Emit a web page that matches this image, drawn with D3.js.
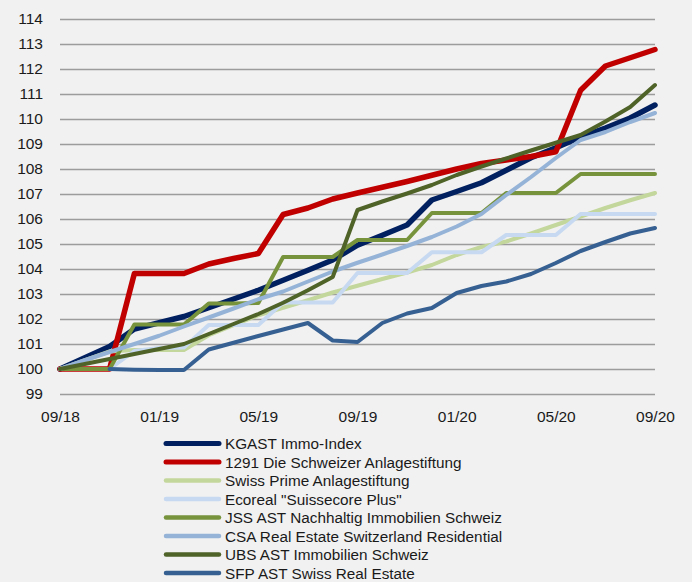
<!DOCTYPE html>
<html>
<head>
<meta charset="utf-8">
<script src="https://cdn.jsdelivr.net/npm/d3@7"></script>
<style>
  html, body { margin: 0; padding: 0; background: #f1f1f1; }
  svg { display: block; font-family: "Liberation Sans", Arial, sans-serif; }
</style>
</head>
<body>
<svg id="chart" width="692" height="582"></svg>
<script>
// ---- data ----
const months = ["09/18","10/18","11/18","12/18","01/19","02/19","03/19","04/19","05/19","06/19","07/19","08/19",
                "09/19","10/19","11/19","12/19","01/20","02/20","03/20","04/20","05/20","06/20","07/20","08/20","09/20"];
const tickLabels = ["09/18","01/19","05/19","09/19","01/20","05/20","09/20"];
const yTicks = [99,100,101,102,103,104,105,106,107,108,109,110,111,112,113,114];

const seriesNames = ["KGAST Immo-Index","1291 Die Schweizer Anlagestiftung","Swiss Prime Anlagestiftung",
  "Ecoreal \"Suissecore Plus\"","JSS AST Nachhaltig Immobilien Schweiz","CSA Real Estate Switzerland Residential",
  "UBS AST Immobilien Schweiz","SFP AST Swiss Real Estate"];

const kgast   = [100,100.45,100.9,101.6,101.85,102.1,102.45,102.8,103.15,103.55,103.95,104.36,104.95,105.35,105.76,106.76,107.1,107.45,107.95,108.45,108.85,109.28,109.64,110.04,110.56];
const s1291   = [100,100,100,103.82,103.82,103.82,104.2,104.42,104.62,106.18,106.44,106.8,107.04,107.27,107.5,107.75,108.0,108.22,108.36,108.5,108.69,111.15,112.12,112.45,112.78];
const swissPrime = [100,100.35,100.7,100.76,100.76,100.76,101.35,101.75,102.15,102.45,102.75,103.06,103.33,103.6,103.86,104.16,104.56,104.88,105.1,105.42,105.76,106.1,106.44,106.75,107.04];
const ecoreal = [100,100,100,100.72,100.84,100.86,101.76,101.76,101.76,102.66,102.66,102.66,103.84,103.84,103.84,104.67,104.67,104.67,105.36,105.36,105.36,106.2,106.2,106.2,106.2];
const jss     = [100,100,100,101.78,101.78,101.78,102.62,102.62,102.64,104.48,104.48,104.48,105.16,105.16,105.16,106.24,106.24,106.24,107.04,107.04,107.04,107.8,107.8,107.8,107.8];
const csa     = [100,100.35,100.68,101.0,101.33,101.7,102.06,102.42,102.79,103.1,103.5,103.9,104.25,104.58,104.92,105.28,105.7,106.2,106.96,107.68,108.44,109.16,109.48,109.88,110.24];
const ubs     = [100,100.2,100.4,100.6,100.8,101.0,101.4,101.8,102.2,102.65,103.15,103.68,106.36,106.7,107.02,107.36,107.76,108.1,108.42,108.74,109.05,109.36,109.9,110.48,111.36];
const sfp     = [null,null,100,99.97,99.96,99.96,100.78,101.05,101.32,101.58,101.84,101.14,101.08,101.84,102.22,102.44,103.04,103.32,103.5,103.8,104.24,104.72,105.08,105.42,105.64];

const seriesValues = [kgast, s1291, swissPrime, ecoreal, jss, csa, ubs, sfp];
const seriesColors = ["#002060","#C00000","#C3D69B","#C6D9F1","#77933C","#95B3D7","#4F6228","#376092"];
const seriesWidths = [5.5,5.5,4,4,4,4,4,4];

// ---- layout ----
const svg = d3.select("#chart");
const plotLeft = 60, plotRight = 655, plotTop = 19, plotBottom = 394;

const x = d3.scalePoint().domain(months).range([plotLeft, plotRight]);
const y = d3.scaleLinear().domain([99, 114]).range([plotBottom, plotTop]);

// grid lines via axis
const yAxis = d3.axisLeft(y).tickValues(yTicks).tickSize(-(plotRight - plotLeft)).tickFormat(d3.format("d")).tickPadding(17);
const gy = svg.append("g").attr("transform", `translate(${plotLeft},0)`).call(yAxis);
gy.select(".domain").remove();
gy.selectAll(".tick line").attr("stroke", "#9c9c9c").attr("stroke-width", 1.6);
gy.selectAll(".tick text").attr("font-size", 15.5).attr("fill", "#1a1a1a");

const xAxis = d3.axisBottom(x).tickValues(tickLabels).tickSize(0).tickPadding(0);
const gx = svg.append("g").attr("transform", `translate(0,${plotBottom})`).call(xAxis);
gx.select(".domain").remove();
gx.selectAll(".tick text").attr("font-size", 15.5).attr("fill", "#1a1a1a").attr("y", 28).attr("dy", "0");

// lines
const line = d3.line()
  .defined(d => d.v !== null)
  .x(d => x(d.m))
  .y(d => y(d.v));

seriesValues.forEach((vals, i) => {
  svg.append("path")
    .datum(vals.map((v, j) => ({ m: months[j], v })))
    .attr("fill", "none")
    .attr("stroke", seriesColors[i])
    .attr("stroke-width", seriesWidths[i])
    .attr("stroke-linejoin", "round")
    .attr("stroke-linecap", "round")
    .attr("d", line);
});

// legend
const leg = svg.append("g");
seriesNames.forEach((name, i) => {
  const yy = 443.5 + i * 18.5;
  leg.append("line")
    .attr("x1", 166).attr("x2", 219).attr("y1", yy).attr("y2", yy)
    .attr("stroke", seriesColors[i])
    .attr("stroke-width", i < 2 ? 5 : 4.5)
    .attr("stroke-linecap", "round");
  leg.append("text")
    .attr("x", 225).attr("y", yy).attr("dy", "0.36em")
    .attr("font-size", 15.3).attr("fill", "#1a1a1a")
    .text(name);
});
</script>
</body>
</html>
